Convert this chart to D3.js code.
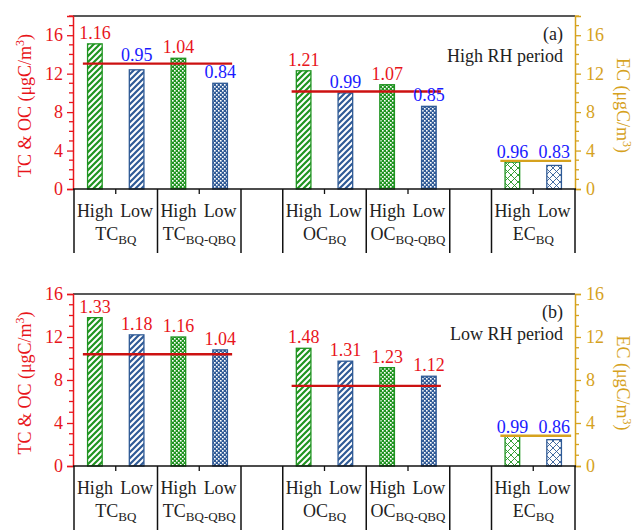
<!DOCTYPE html>
<html><head><meta charset="utf-8">
<script src="https://cdn.jsdelivr.net/npm/d3@7"></script>
<style>body{margin:0;background:#fff}svg{display:block}text{font-family:"Liberation Serif","Times New Roman",serif}</style>
</head><body><svg id="c" width="638" height="530"></svg>
<script>
// ---- data ----
const slots = ["High","Low","High","Low","","High","Low","High","Low","","High","Low"];
const groups = [
  {name:"TC", sub:"BQ", slots:[0,1]},
  {name:"TC", sub:"BQ-QBQ", slots:[2,3]},
  {name:"OC", sub:"BQ", slots:[5,6]},
  {name:"OC", sub:"BQ-QBQ", slots:[7,8]},
  {name:"EC", sub:"BQ", slots:[10,11]}
];
const barSlots = [0,1,2,3,5,6,7,8,10,11];
const barKind  = ["hatchG","hatchB","dotG","dotB","hatchG","hatchB","dotG","dotB","crossG","crossB"];
// panel (a) High RH period
const valuesA = [15.1,12.4,13.6,11.0, 12.3,10.0,10.85,8.6, 2.8,2.45];
const labelsA = ["1.16","0.95","1.04","0.84","1.21","0.99","1.07","0.85","0.96","0.83"];
const refA    = [13.05,10.15,2.93];
// panel (b) Low RH period
const valuesB = [13.8,12.2,12.0,10.8, 10.95,9.75,9.15,8.35, 2.78,2.45];
const labelsB = ["1.33","1.18","1.16","1.04","1.48","1.31","1.23","1.12","0.99","0.86"];
const refB    = [10.4,7.45,2.82];
const refSlots = [[0,3],[5,8],[10,11]];
const yTicks = [0,4,8,12,16];

// ---- style ----
const GREEN="#1f9420", BLUE="#2f5a96", RED="#e8151b", LINERED="#cc1111", GOLD="#d6a21e", TXTBLUE="#1a1aff";
const svg = d3.select("#c");
const defs = svg.append("defs");
function hatch(id,color){
  const p=defs.append("pattern").attr("id",id).attr("patternUnits","userSpaceOnUse").attr("width",6).attr("height",6);
  p.append("rect").attr("width",6).attr("height",6).attr("fill","#fff");
  p.append("path").attr("d","M-1,1 l2,-2 M0,6 l6,-6 M5,7 l2,-2").attr("stroke",color).attr("stroke-width",2.2);
}
function dots(id,color){
  const p=defs.append("pattern").attr("id",id).attr("patternUnits","userSpaceOnUse").attr("width",4).attr("height",4);
  p.append("rect").attr("width",4).attr("height",4).attr("fill",color);
  p.append("rect").attr("x",0).attr("y",0).attr("width",1.6).attr("height",1.6).attr("fill","#fff");
  p.append("rect").attr("x",2).attr("y",2).attr("width",1.6).attr("height",1.6).attr("fill","#fff");
}
function cross(id,color){
  const p=defs.append("pattern").attr("id",id).attr("patternUnits","userSpaceOnUse").attr("width",7).attr("height",7);
  p.append("rect").attr("width",7).attr("height",7).attr("fill","#fff");
  p.append("path").attr("d","M0,0 L7,7 M7,0 L0,7").attr("stroke",color).attr("stroke-width",0.9);
}
hatch("hatchG",GREEN);hatch("hatchB",BLUE);dots("dotG",GREEN);dots("dotB",BLUE);cross("crossG",GREEN);cross("crossB",BLUE);
const kindColor = k => k.endsWith("G")?GREEN:BLUE;

const x = d3.scaleBand().domain(d3.range(slots.length)).range([74,575]).padding(0);
const bw = x.bandwidth()*0.35;
const cx = i => x(i)+x.bandwidth()/2;

function panel(top,bottom,ymax,values,labels,refs,tag,title){
  const y = d3.scaleLinear().domain([0,ymax]).range([bottom,top]);
  const g = svg.append("g");
  g.append("line").attr("x1",73).attr("x2",575).attr("y1",top).attr("y2",top).attr("stroke","#222").attr("stroke-width",1.3);
  g.selectAll("rect.bar").data(values).join("rect")
    .attr("x",(d,i)=>cx(barSlots[i])-bw/2).attr("width",bw)
    .attr("y",d=>y(d)).attr("height",d=>bottom-y(d))
    .attr("fill",(d,i)=>`url(#${barKind[i]})`).attr("stroke",(d,i)=>kindColor(barKind[i])).attr("stroke-width",1.3);
  refs.forEach((r,k)=>{
    const [a,b]=refSlots[k];
    g.append("line").attr("x1",cx(a)-12).attr("x2",cx(b)+12+(k==2?5:0))
      .attr("y1",y(r)).attr("y2",y(r)).attr("stroke",k==2?GOLD:LINERED).attr("stroke-width",2.4);
  });
  values.forEach((v,i)=>{
    const k = barSlots[i]<4?0:(barSlots[i]<9?1:2);
    const ly = y(refs[k]);
    let yy = y(v)-5;
    if (y(v)>ly && y(v)-ly<8) yy = ly-3;
    g.append("text").attr("x",cx(barSlots[i])).attr("y",yy).attr("text-anchor","middle")
      .attr("font-size",18).attr("fill",parseFloat(labels[i])>1?RED:TXTBLUE).text(labels[i]);
  });
  const la = g.append("g").attr("transform","translate(73,0)")
    .call(d3.axisLeft(y).tickValues(yTicks).tickSize(6).tickPadding(4).tickFormat(d3.format("d")));
  la.select(".domain").attr("stroke",RED).attr("stroke-width",1.5);
  la.selectAll(".tick line").attr("stroke",RED).attr("stroke-width",1.3);
  la.selectAll(".tick text").attr("fill",RED).attr("font-size",18);
  la.append("g").selectAll("line").data(d3.range(0,ymax+0.01,1).filter(v=>v%4)).join("line")
    .attr("x1",-4).attr("x2",0).attr("y1",d=>y(d)).attr("y2",d=>y(d)).attr("stroke",RED).attr("stroke-width",1.3);
  const ra = g.append("g").attr("transform","translate(575,0)")
    .call(d3.axisRight(y).tickValues(yTicks).tickSize(6).tickPadding(5).tickFormat(d3.format("d")));
  ra.select(".domain").attr("stroke",GOLD).attr("stroke-width",1.5);
  ra.selectAll(".tick line").attr("stroke",GOLD).attr("stroke-width",1.3);
  ra.selectAll(".tick text").attr("fill",GOLD).attr("font-size",18);
  ra.append("g").selectAll("line").data(d3.range(0,ymax+0.01,1).filter(v=>v%4)).join("line")
    .attr("x1",0).attr("x2",4).attr("y1",d=>y(d)).attr("y2",d=>y(d)).attr("stroke",GOLD).attr("stroke-width",1.3);
  g.append("line").attr("x1",73).attr("x2",576).attr("y1",bottom).attr("y2",bottom).attr("stroke","#111").attr("stroke-width",1.5);
  const seps = [0,2,4,5,7,9,10].map(i=>x(i)).concat([575]);
  g.selectAll("line.sep").data(seps).join("line").attr("x1",d=>d).attr("x2",d=>d)
    .attr("y1",bottom).attr("y2",bottom+64).attr("stroke","#111").attr("stroke-width",1.5);
  groups.forEach(gr=>{
    const m = x(gr.slots[1]);
    g.append("line").attr("x1",m).attr("x2",m).attr("y1",bottom).attr("y2",bottom+5).attr("stroke","#111").attr("stroke-width",1.3);
    const t = g.append("text").attr("x",m).attr("y",bottom+51).attr("text-anchor","middle").attr("font-size",18).attr("fill","#222");
    t.append("tspan").text(gr.name);
    t.append("tspan").attr("font-size",13).attr("dy",4).text(gr.sub);
  });
  slots.forEach((s,i)=>{ if(s) g.append("text").attr("x",cx(i)).attr("y",bottom+28).attr("text-anchor","middle")
      .attr("font-size",18).attr("fill","#222").text(s); });
  g.append("text").attr("x",563).attr("y",top+24).attr("text-anchor","end").attr("font-size",18).attr("fill","#222").text(tag);
  g.append("text").attr("x",563).attr("y",top+46).attr("text-anchor","end").attr("font-size",18).attr("fill","#222").text(title);
  const mid=(top+bottom)/2+3;
  const lt = g.append("text").attr("transform",`translate(31,${mid}) rotate(-90)`).attr("text-anchor","middle").attr("font-size",18).attr("fill",RED);
  lt.append("tspan").text("TC & OC (μgC/m");
  lt.append("tspan").attr("font-size",12).attr("dy",-7).text("3");
  lt.append("tspan").attr("dy",7).text(")");
  const rt = g.append("text").attr("transform",`translate(617,${mid}) rotate(90)`).attr("text-anchor","middle").attr("font-size",18).attr("fill",GOLD);
  rt.append("tspan").text("EC (μgC/m");
  rt.append("tspan").attr("font-size",12).attr("dy",-6).text("3");
  rt.append("tspan").attr("dy",6).text(")");
}
panel(16,189,18,valuesA,labelsA,refA,"(a)","High RH period");
panel(294,466,16,valuesB,labelsB,refB,"(b)","Low RH period");
</script></body></html>
